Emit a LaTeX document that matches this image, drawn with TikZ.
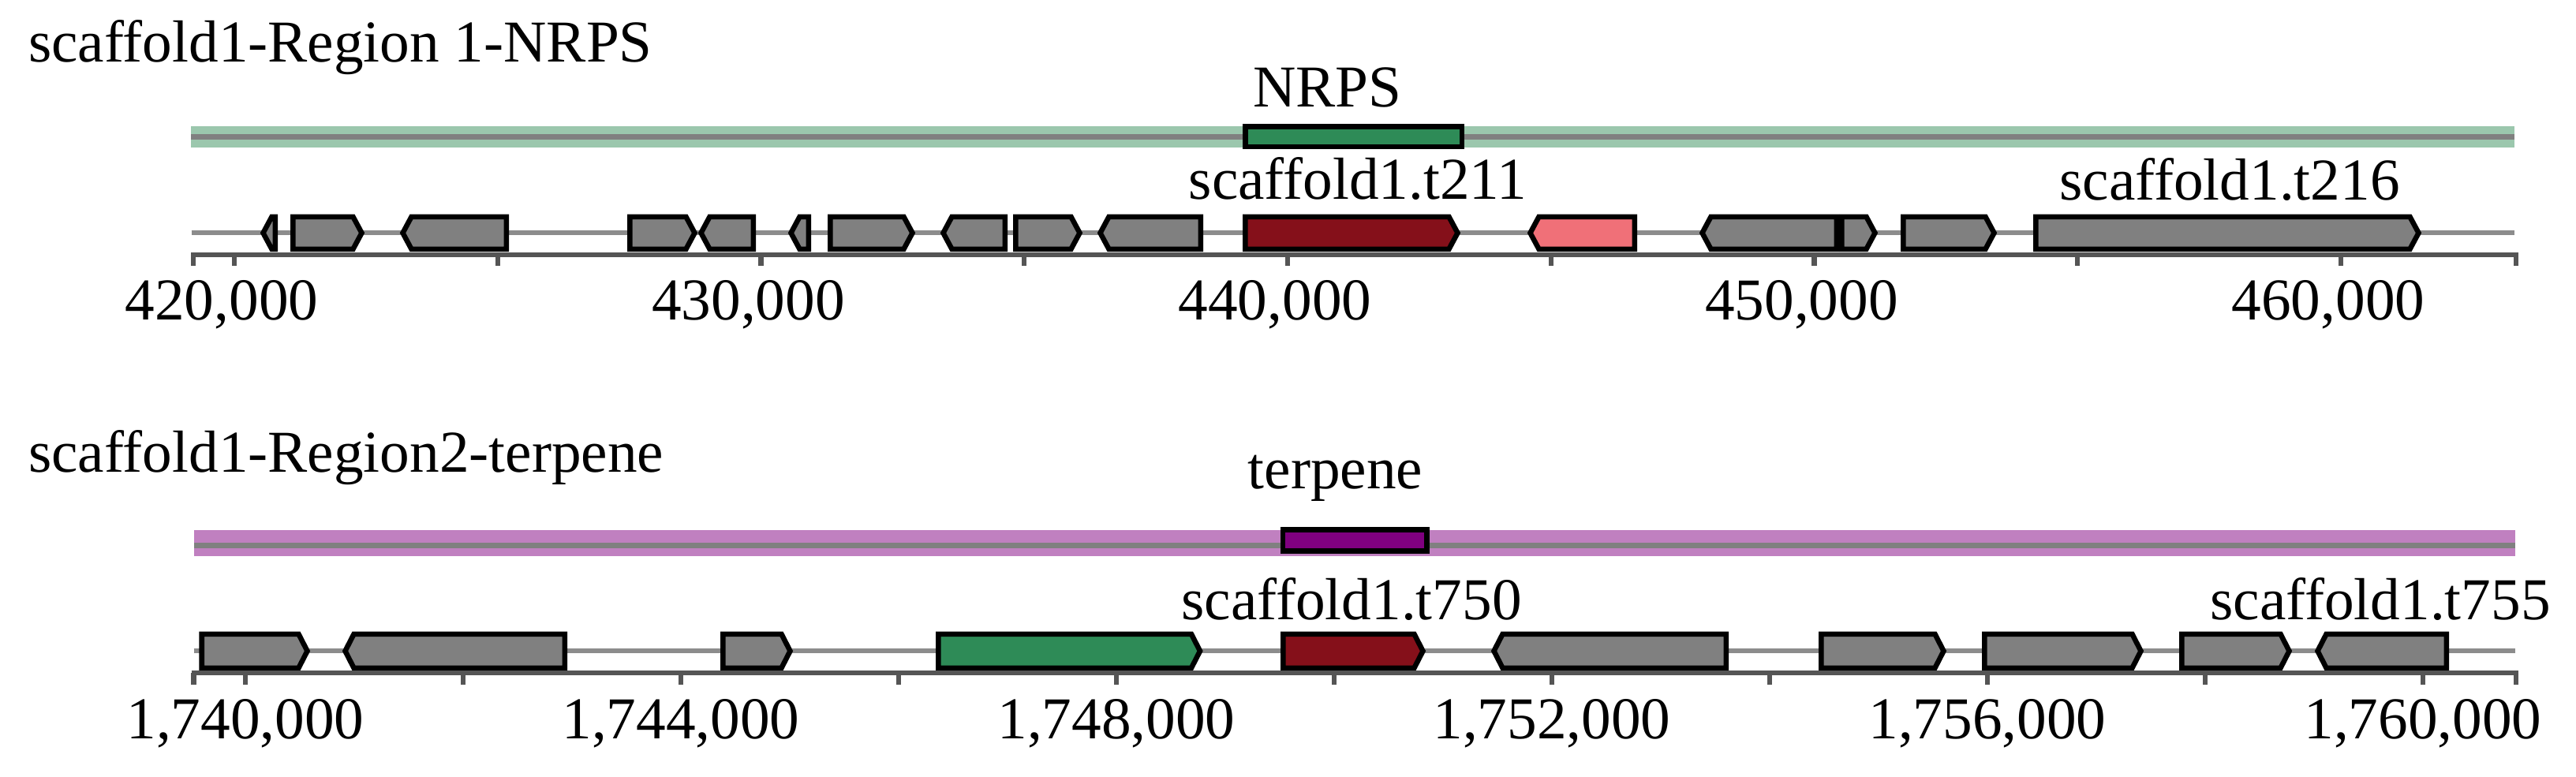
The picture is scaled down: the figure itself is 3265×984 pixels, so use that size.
\documentclass[tikz,border=0pt]{standalone}
\usepackage{fontspec}
\setmainfont{Liberation Serif}
\definecolor{genegray}{HTML}{808080}
\definecolor{trackgray}{HTML}{8C8C8C}
\definecolor{axisgray}{HTML}{555555}
\definecolor{nrpsband}{HTML}{9BC7AD}
\definecolor{terpband}{HTML}{C080C0}
\definecolor{regiongreen}{HTML}{2E8B57}
\definecolor{coredarkred}{HTML}{85101A}
\definecolor{pinkred}{HTML}{F07078}
\definecolor{purplebox}{HTML}{800080}
\tikzset{
  genestyle/.style={draw=black, line width=1.85pt, line join=miter},
  trackline/.style={draw=trackgray, line width=1.7pt},
  axisline/.style={draw=axisgray, line width=1.7pt},
  tickline/.style={draw=axisgray, line width=1.8pt},
  lbl/.style={inner sep=0pt, outer sep=0pt, font=\fontsize{21.4pt}{25pt}\selectfont},
}
% right-pointing gene: outer x-extent #1..#2, centre y #3, half height #4, fill #5
\newcommand{\generight}[5]{%
  \pgfmathsetmacro{\ga}{#1+3.25}%
  \pgfmathsetmacro{\gb}{#2-6.5}%
  \pgfmathsetmacro{\gc}{\gb-11}%
  \draw[genestyle, fill=#5] (\ga,#3-#4) -- (\gc,#3-#4) -- (\gb,#3) -- (\gc,#3+#4) -- (\ga,#3+#4) -- cycle;}
% left-pointing gene
\newcommand{\geneleft}[5]{%
  \pgfmathsetmacro{\ga}{#1+6.5}%
  \pgfmathsetmacro{\gb}{#2-3.25}%
  \pgfmathsetmacro{\gc}{\ga+11}%
  \draw[genestyle, fill=#5] (\gb,#3-#4) -- (\gc,#3-#4) -- (\ga,#3) -- (\gc,#3+#4) -- (\gb,#3+#4) -- cycle;}
\begin{document}
\begin{tikzpicture}[x=0.01cm, y=-0.01cm]
\useasboundingbox (0,0) rectangle (3265,984);
\fill[white] (0,0) rectangle (3265,984);

% ================= Region 1 =================
\node[lbl, anchor=base west] (title1) at (36,78) {scaffold1-Region 1-NRPS};
\fill[nrpsband] (242,160) rectangle (3187,187);
\fill[genegray] (242,170) rectangle (3187,177);
\draw[genestyle, fill=regiongreen] (1578.25,160.5) rectangle (1852.75,186.1);
\node[lbl, anchor=base] (nrpslbl) at (1682.5,135) {NRPS};

\draw[trackline] (242.7,294.7) -- (3187,294.7);
\geneleft{327}{352}{295.3}{20.5}{genegray}
\generight{368}{465}{295.3}{20.5}{genegray}
\geneleft{504}{645}{295.3}{20.5}{genegray}
\generight{795}{887}{295.3}{20.5}{genegray}
\geneleft{882}{958}{295.3}{20.5}{genegray}
\geneleft{996}{1028}{295.3}{20.5}{genegray}
\generight{1049}{1163}{295.3}{20.5}{genegray}
\geneleft{1189}{1277}{295.3}{20.5}{genegray}
\generight{1284}{1375}{295.3}{20.5}{genegray}
\geneleft{1388}{1525}{295.3}{20.5}{genegray}
\generight{1575}{1854}{295.3}{20.5}{coredarkred}
\geneleft{1933}{2075}{295.3}{20.5}{pinkred}
\geneleft{2151}{2331}{295.3}{20.5}{genegray}
\generight{2331}{2383}{295.3}{20.5}{genegray}
\generight{2409}{2534}{295.3}{20.5}{genegray}
\generight{2577}{3072}{295.3}{20.5}{genegray}
\node[lbl, anchor=base] (t211) at (1721,252) {scaffold1.t211};
\node[lbl, anchor=base] (t216) at (2826,253) {scaffold1.t216};

\draw[axisline] (242,323) -- (3192,323);
\draw[tickline] (245,323) -- (245,337);
\draw[tickline] (3189,323) -- (3189,337);
\foreach \k in {0,...,8} \draw[tickline] (297+\k*333.75,323) -- ++(0,14);
\node[lbl, anchor=base] (l420) at (281,405) {420,000};
\node[lbl, anchor=base] (l430) at (948.5,405) {430,000};
\node[lbl, anchor=base] (l440) at (1616,405) {440,000};
\node[lbl, anchor=base] (l450) at (2283.5,405) {450,000};
\node[lbl, anchor=base] (l460) at (2951,405) {460,000};

% ================= Region 2 =================
\node[lbl, anchor=base west] (title2) at (36,598) {scaffold1-Region2-terpene};
\fill[terpband] (245.5,672) rectangle (3188,705);
\fill[genegray] (245.5,688) rectangle (3188,695);
\draw[genestyle, fill=purplebox] (1626,671.5) rectangle (1808.5,698.5);
\node[lbl, anchor=base] (terplbl) at (1692.5,619) {terpene};

\draw[trackline] (245.5,824.7) -- (3188,824.7);
\generight{252.5}{396}{825.3}{21.5}{genegray}
\geneleft{431}{719}{825.3}{21.5}{genegray}
\generight{913}{1008}{825.3}{21.5}{genegray}
\generight{1186}{1527.5}{825.3}{21.5}{regiongreen}
\generight{1623}{1810}{825.3}{21.5}{coredarkred}
\geneleft{1887}{2191}{825.3}{21.5}{genegray}
\generight{2305}{2470}{825.3}{21.5}{genegray}
\generight{2512}{2720}{825.3}{21.5}{genegray}
\generight{2762}{2908}{825.3}{21.5}{genegray}
\geneleft{2931}{3104}{825.3}{21.5}{genegray}
\node[lbl, anchor=base] (t750) at (1713,785) {scaffold1.t750};
\node[lbl, anchor=base] (t755) at (3017,785) {scaffold1.t755};

\draw[axisline] (242.5,853) -- (3192,853);
\draw[tickline] (245.5,853) -- (245.5,868);
\draw[tickline] (3189,853) -- (3189,868);
\foreach \k in {0,...,10} \draw[tickline] (311+\k*276,853) -- ++(0,15);
\node[lbl, anchor=base] (l1740) at (311,936.5) {1,740,000};
\node[lbl, anchor=base] (l1744) at (863,936.5) {1,744,000};
\node[lbl, anchor=base] (l1748) at (1415,936.5) {1,748,000};
\node[lbl, anchor=base] (l1752) at (1967,936.5) {1,752,000};
\node[lbl, anchor=base] (l1756) at (2519,936.5) {1,756,000};
\node[lbl, anchor=base] (l1760) at (3071,936.5) {1,760,000};
\end{tikzpicture}
\end{document}
